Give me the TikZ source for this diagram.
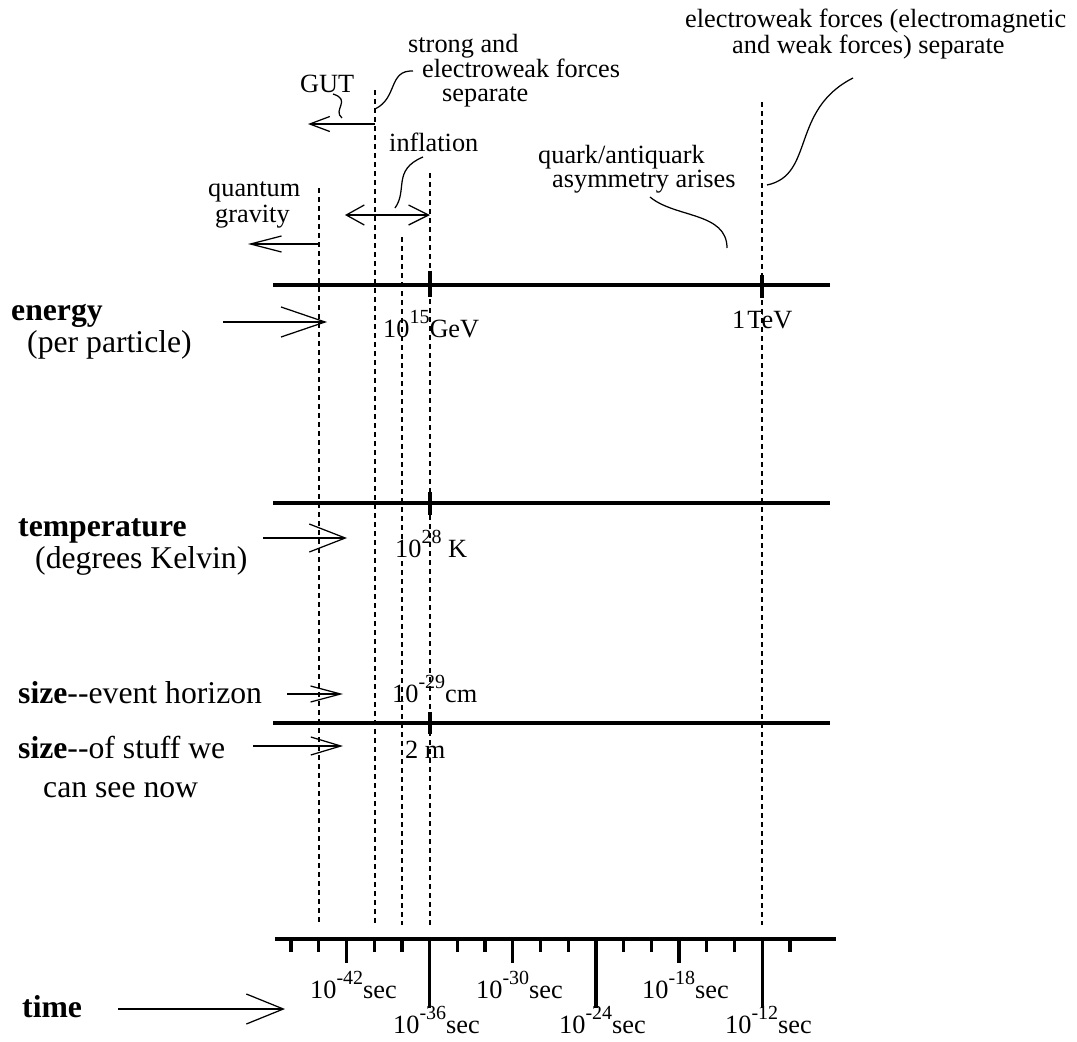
\documentclass[tikz,border=0pt]{standalone}
\usepackage{fontspec}
\setmainfont{Liberation Serif}
\usetikzlibrary{arrows.meta}

\newcommand{\expo}[1]{\raisebox{13.5pt}{\fontsize{20}{22}\selectfont #1}}

\tikzset{
  axis/.style={line width=3.3pt},
  guide/.style={line width=1.2pt,dash pattern=on 5pt off 4pt},
  lead/.style={line width=1.25pt},
  txt/.style={inner sep=0pt,anchor=base west,font=\fontsize{26.3}{30}\selectfont},
  head/.style={inner sep=0pt,anchor=base west,font=\fontsize{31.7}{36}\selectfont},
}

\begin{document}
\begin{tikzpicture}[x=1pt,y=-1pt]
\useasboundingbox (0,0) rectangle (1077,1042);

% axes
\coordinate (e0) at (273,285); \coordinate (e1) at (830,285);
\coordinate (k0) at (273,503); \coordinate (k1) at (830,503);
\coordinate (s0) at (273,723); \coordinate (s1) at (830,723);
\coordinate (t0) at (275,939); \coordinate (t1) at (836,939);
\draw[axis] (e0) -- (e1);
\draw[axis] (k0) -- (k1);
\draw[axis] (s0) -- (s1);
\draw[axis] (t0) -- (t1);
\draw[axis] (430,271) -- (430,297);
\draw[axis] (762,275) -- (762,298);
\draw[axis] (430,492) -- (430,515);
\draw[axis] (430,712) -- (430,734);
\foreach \k in {0,...,18}
  \draw[axis] (291+27.72*\k,939) -- (291+27.72*\k,952);
\foreach \k in {2,8,14}
  \draw[axis] (291+27.72*\k,939) -- (291+27.72*\k,963);
\foreach \k in {5,11,17}
  \draw[axis] (291+27.72*\k,939) -- (291+27.72*\k,1008);

% dashed guides
\foreach \n/\x/\y in {qg/319/188, gut/375/90, mid/402/237, infl/430/173, ew/762/102} {
  \coordinate (\n top) at (\x,\y);
  \coordinate (\n bot) at (\x,925);
  \draw[guide] (\n top) -- (\n bot);
}

% axis labels
\node[txt] (gev) at (383,337) {10\expo{15}GeV};
\node[txt] (tev) at (732,328) {1\kern2pt TeV};
\node[txt] (kel) at (395,557) {10\expo{28} K};
\node[txt] (cm) at (392,702) {10\expo{-29}cm};
\node[txt] (m) at (405,758) {2 m};
\foreach \x/\e/\y [count=\i] in {310/-42/998, 393/-36/1033, 476/-30/998,
    559/-24/1033, 642/-18/998, 725/-12/1033}
  \node[txt] (sec\i) at (\x,\y) {10\expo{\e}sec};

% left labels
\node[head] (energy) at (11,320) {\textbf{energy}};
\node[head] (perpart) at (27,352) {(per particle)};
\node[head] (temp) at (18,536) {\textbf{temperature}};
\node[head] (kelvin) at (35,568) {(degrees Kelvin)};
\node[head] (horizon) at (18,703) {\textbf{size}-{}-event horizon};
\node[head] (stuff) at (18,758) {\textbf{size}-{}-of stuff we};
\node[head] (seenow) at (43,797) {can see now};
\node[head] (time) at (22,1017) {\textbf{time}};

% top labels
\node[txt] (quantum) at (208,196) {quantum};
\node[txt] (gravity) at (215,222) {gravity};
\node[txt] (gutl) at (300,92) {GUT};
\node[txt] (inflation) at (389,151) {inflation};
\node[txt] (strong1) at (408,52) {strong and};
\node[txt] (strong2) at (422,77) {electroweak forces};
\node[txt] (strong3) at (442,101) {separate};
\node[txt] (quark1) at (538,163) {quark/antiquark};
\node[txt] (quark2) at (552,187) {asymmetry arises};
\node[txt] (ew1) at (685,27) {electroweak forces (electromagnetic};
\node[txt] (ew2) at (732,53) {and weak forces) separate};

% arrows
\coordinate (ea) at (223,322); \coordinate (eb) at (327,322);
\coordinate (ka) at (263,538); \coordinate (kb) at (347,538);
\coordinate (ha) at (287,694); \coordinate (hb) at (343,694);
\coordinate (sa) at (253,746); \coordinate (sb) at (343,746);
\coordinate (ta) at (118,1009); \coordinate (tb) at (285,1009);
\draw[lead,-{Straight Barb[length=44pt,width=30pt]}] (ea) -- (eb);
\draw[lead,-{Straight Barb[length=36pt,width=28pt]}] (ka) -- (kb);
\draw[lead,-{Straight Barb[length=30pt,width=16pt]}] (ha) -- (hb);
\draw[lead,-{Straight Barb[length=30pt,width=18pt]}] (sa) -- (sb);
\draw[lead,-{Straight Barb[length=37pt,width=30pt]}] (ta) -- (tb);
\coordinate (qa) at (319,244); \coordinate (qb) at (248,244);
\coordinate (ga) at (375,124); \coordinate (gb) at (308,124);
\coordinate (ia) at (345,215); \coordinate (ib) at (430,215);
\draw[lead,-{Straight Barb[length=31pt,width=16pt]}] (qa) -- (qb);
\draw[lead,-{Straight Barb[length=20pt,width=15pt]}] (ga) -- (gb);
\draw[lead,{Straight Barb[length=18pt,width=20pt]}-{Straight Barb[length=20pt,width=20pt]}] (ia) -- (ib);

% leaders
\draw[lead] (333,94) .. controls (352,100) and (332,110) .. (342,118);
\draw[lead] (375,109) .. controls (398,98) and (388,70) .. (413,71);
\draw[lead] (395,208) .. controls (408,190) and (392,170) .. (423,157);
\draw[lead] (650,197) .. controls (675,218) and (727,212) .. (727,248);
\draw[lead] (767,185) .. controls (815,175) and (790,110) .. (853,78);
\end{tikzpicture}
\end{document}
